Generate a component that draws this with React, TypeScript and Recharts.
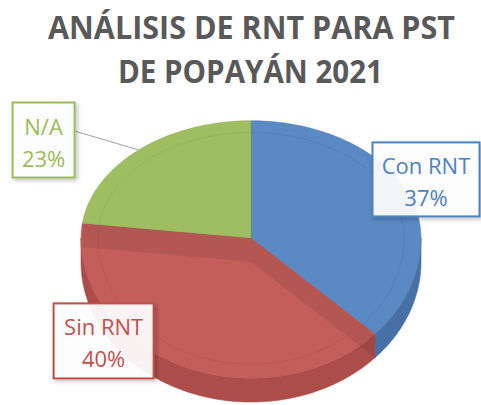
import React from "react";
import { PieChart, Pie, Cell } from "recharts";

const CATEGORIES = ["Con RNT", "Sin RNT", "N/A"];
const VALUES = [37, 40, 23];
const TOP_COLORS = ["#5a89c3", "#c45e5a", "#9fbe61"];
const SIDE_COLORS = ["#4670a6", "#ad4d49", "#86a24e"];
const TEXT_COLORS = ["#4f81bd", "#c0504d", "#9bbb59"];

// label boxes, offset from the rim point at each slice's mid angle
const LABEL_BOX = [
  { dx: 19, dy: -12, w: 107, h: 74 },
  { dx: -75, dy: -24, w: 100, h: 75 },
  { dx: -95, dy: -10, w: 62, h: 75 },
];

const data = CATEGORIES.map((name, i) => ({ name, value: VALUES[i] }));

// perspective of the tilted pie: upper half is flatter than the lower half
const K_TOP = 0.69;
const K_BOTTOM = 0.825;
const DEPTH = 0.14;

const rad = (d: number) => (d * Math.PI) / 180;

const rimPoint = (cx: number, cy: number, r: number, deg: number, rf = 1, dy = 0) => {
  const s = Math.sin(rad(deg));
  const k = s >= 0 ? K_TOP : K_BOTTOM;
  return [cx + r * rf * Math.cos(rad(deg)), cy - r * rf * k * s + dy];
};

const arcPoints = (cx: number, cy: number, r: number, from: number, to: number, rf = 1, dy = 0) => {
  const n = Math.max(2, Math.ceil(Math.abs(to - from)));
  const pts: string[] = [];
  for (let k = 0; k <= n; k++) {
    const p = rimPoint(cx, cy, r, from + ((to - from) * k) / n, rf, dy);
    pts.push(`${p[0].toFixed(2)},${p[1].toFixed(2)}`);
  }
  return pts;
};

const indexOf = (props: any) => {
  const name = props.payload?.name ?? props.name;
  const i = CATEGORIES.indexOf(name);
  return i < 0 ? props.index ?? 0 : i;
};

const renderSlice = (props: any) => {
  const { cx, cy, outerRadius: r, startAngle: a0, endAngle: a1 } = props;
  const i = indexOf(props);
  const depth = r * DEPTH;
  const top = `M${cx},${cy} L${arcPoints(cx, cy, r, a0, a1).join(" L")} Z`;

  const hi = Math.min(Math.max(a0, a1), 0);
  const lo = Math.max(Math.min(a0, a1), -180);
  let side = "";
  if (hi > lo) {
    const upper = arcPoints(cx, cy, r, hi, lo);
    const lower = arcPoints(cx, cy, r, lo, hi, 1, depth);
    side = `M${upper.join(" L")} L${lower.join(" L")} Z`;
  }

  const w = rimPoint(cx, cy, r, a0);
  const wall = `M${cx},${cy} L${w[0]},${w[1]} L${w[0]},${w[1] + depth} L${cx},${cy + depth} Z`;
  const ring = `M${arcPoints(cx, cy, r, a0, a1, 0.9).join(" L")}`;

  return (
    <g>
      {side && <path d={side} fill={SIDE_COLORS[i]} stroke={SIDE_COLORS[i]} strokeWidth={0.6} />}
      <path d={top} fill={TOP_COLORS[i]} stroke={SIDE_COLORS[i]} strokeWidth={0.7} strokeOpacity={0.6} />
      <path d={wall} fill="#000" fillOpacity={0.08} />
      <path d={ring} fill="none" stroke={SIDE_COLORS[i]} strokeOpacity={0.35} strokeWidth={1} />
    </g>
  );
};

const renderLabel = (props: any) => {
  const { cx, cy, outerRadius: r, midAngle, percent } = props;
  const i = indexOf(props);
  const box = LABEL_BOX[i];
  const anchor = rimPoint(cx, cy, r, midAngle);
  const bx = anchor[0] + box.dx - box.w / 2;
  const by = anchor[1] + box.dy - box.h / 2;
  const tx = bx + box.w / 2;
  const color = TEXT_COLORS[i];
  const fid = `lblShadow${i}`;
  return (
    <g>
      <defs>
        <filter id={fid} x="-20%" y="-20%" width="150%" height="150%">
          <feDropShadow dx="2" dy="2" stdDeviation="2" floodColor="#000" floodOpacity="0.25" />
        </filter>
      </defs>
      {i === 2 && (
        <line
          x1={anchor[0]}
          y1={anchor[1]}
          x2={bx + box.w}
          y2={by + box.h * 0.38}
          stroke="#a6a6a6"
          strokeWidth={1.2}
        />
      )}
      <rect
        x={bx}
        y={by}
        width={box.w}
        height={box.h}
        fill="#ffffff"
        fillOpacity={0.92}
        stroke={color}
        strokeWidth={2}
        filter={`url(#${fid})`}
      />
      <text
        x={tx}
        y={by + 32}
        textAnchor="middle"
        fill={color}
        fontFamily="'Open Sans', sans-serif"
        fontSize={22}
      >
        {CATEGORIES[i]}
      </text>
      <text
        x={tx}
        y={by + 64}
        textAnchor="middle"
        fill={color}
        fontFamily="'Open Sans', sans-serif"
        fontSize={22}
      >
        {`${Math.round(percent * 100)}%`}
      </text>
    </g>
  );
};

const App = () => {
  return (
    <div style={{ position: "absolute", left: 0, top: 0, width: 481, height: 405, background: "#fff" }}>
      <svg width={481} height={100} style={{ position: "absolute", left: 0, top: 0 }}>
        <text
          x={251.5}
          y={39}
          textAnchor="middle"
          fill="#595959"
          fontFamily="'Open Sans', sans-serif"
          fontWeight={700}
          fontSize={32}
          textLength={407}
          lengthAdjust="spacingAndGlyphs"
        >
          ANÁLISIS DE RNT PARA PST
        </text>
        <text
          x={250.5}
          y={83}
          textAnchor="middle"
          fill="#595959"
          fontFamily="'Open Sans', sans-serif"
          fontWeight={700}
          fontSize={32}
          textLength={265}
          lengthAdjust="spacingAndGlyphs"
        >
          DE POPAYÁN 2021
        </text>
      </svg>
      <div style={{ position: "absolute", left: 0, top: 0 }}>
        <PieChart width={481} height={405} margin={{ top: 0, right: 0, bottom: 0, left: 0 }}>
          <Pie
            data={data}
            dataKey="value"
            nameKey="name"
            cx={251}
            cy={238}
            outerRadius={170}
            startAngle={90}
            endAngle={-270}
            stroke="none"
            isAnimationActive={false}
            shape={renderSlice}
            inactiveShape={renderSlice}
            activeShape={renderSlice}
            label={renderLabel}
            labelLine={false}
          >
            {data.map((d, i) => (
              <Cell key={d.name} fill={TOP_COLORS[i]} />
            ))}
          </Pie>
        </PieChart>
      </div>
    </div>
  );
};

export default App;
